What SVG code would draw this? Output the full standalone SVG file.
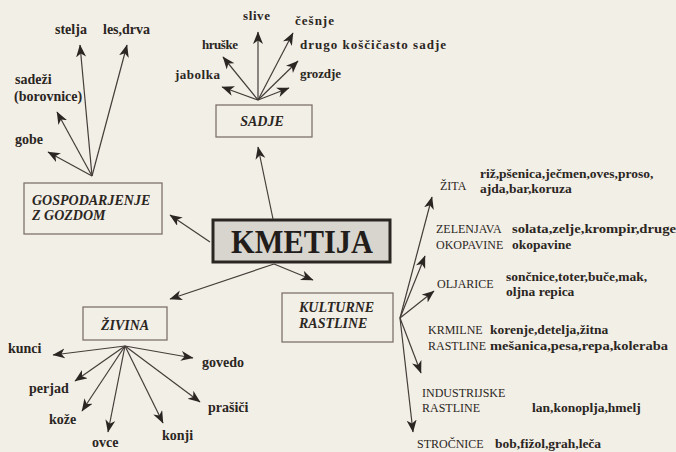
<svg xmlns="http://www.w3.org/2000/svg" width="676" height="452" viewBox="0 0 676 452">
<defs>
<marker id="ah" markerUnits="userSpaceOnUse" markerWidth="14" markerHeight="11" refX="12" refY="5" orient="auto">
<path d="M0,0 L12.5,5 L0,10 L3.5,5 z" fill="#2b2622"/>
</marker>
<style>
.bg{fill:#f2efe7}
.box{fill:#f2efe7;stroke:#7d716a;stroke-width:1.3}
.main{fill:#d8d5ce;stroke:#2b2622;stroke-width:3}
.bt{font-family:"Liberation Serif",serif;font-weight:bold;font-style:italic;font-size:14px;fill:#2b2622}
.kt{font-family:"Liberation Serif",serif;font-weight:bold;font-size:34px;fill:#221d1a}
.lb{font-family:"Liberation Serif",serif;font-weight:bold;font-size:14px;fill:#2b2622}
.sj{font-family:"Liberation Serif",serif;font-weight:bold;font-size:13px;fill:#2b2622}
.cap{font-family:"Liberation Serif",serif;font-size:12px;fill:#2b2622}
.sm{font-family:"Liberation Serif",serif;font-weight:bold;font-size:13.5px;fill:#2b2622}
.c line{stroke:#443d38;stroke-width:1.2;fill:none;marker-end:url(#ah)}
</style>
</defs>
<rect class="bg" x="0" y="0" width="676" height="452"/>

<g id="kmetija">
<rect class="main" x="213" y="220" width="177" height="42"/>
<text class="kt" x="302" y="253" text-anchor="middle" textLength="142" lengthAdjust="spacingAndGlyphs">KMETIJA</text>
</g>

<g id="sadje">
<rect class="box" x="216" y="105" width="96" height="32"/>
<text class="bt" x="262" y="126" text-anchor="middle">SADJE</text>
</g>

<g id="gospodarjenje">
<rect class="box" x="24" y="183" width="138" height="51"/>
<text class="bt" x="32" y="205">GOSPODARJENJE</text>
<text class="bt" x="32" y="220">Z GOZDOM</text>
</g>

<g id="zivina">
<rect class="box" x="83" y="307" width="84" height="33"/>
<text class="bt" x="125" y="330" text-anchor="middle">ŽIVINA</text>
</g>

<g id="kulturne">
<rect class="box" x="282" y="293" width="111" height="49"/>
<text class="bt" x="299" y="312">KULTURNE</text>
<text class="bt" x="299" y="328">RASTLINE</text>
</g>

<g id="sadje-items">
<text class="sj" x="243" y="20" textLength="27">slive</text>
<text class="sj" x="295" y="25" textLength="39">češnje</text>
<text class="sj" x="202" y="49" textLength="36">hruške</text>
<text class="sj" x="300" y="49" textLength="146">drugo koščičasto sadje</text>
<text class="sj" x="175" y="79" textLength="45">jabolka</text>
<text class="sj" x="300" y="78" textLength="41">grozdje</text>
</g>

<g id="gozd-items">
<text class="lb" x="55" y="34">stelja</text>
<text class="lb" x="103" y="34">les,drva</text>
<text class="lb" x="15" y="84">sadeži</text>
<text class="lb" x="14" y="101">(borovnice)</text>
<text class="lb" x="15" y="144">gobe</text>
</g>

<g id="zivina-items">
<text class="lb" x="8" y="353">kunci</text>
<text class="lb" x="202" y="367">govedo</text>
<text class="lb" x="29" y="393">perjad</text>
<text class="lb" x="49" y="424">kože</text>
<text class="lb" x="92" y="447">ovce</text>
<text class="lb" x="162" y="440">konji</text>
<text class="lb" x="208" y="412">prašiči</text>
</g>

<g id="rastline-items">
<text class="cap" x="440" y="190">ŽITA</text>
<text class="sm" x="480" y="178">riž,pšenica,ječmen,oves,proso,</text>
<text class="sm" x="480" y="193">ajda,bar,koruza</text>
<text class="cap" x="436" y="233">ZELENJAVA</text>
<text class="sm" x="512" y="233" textLength="164" lengthAdjust="spacingAndGlyphs">solata,zelje,krompir,druge</text>
<text class="cap" x="436" y="249">OKOPAVINE</text>
<text class="sm" x="512" y="249">okopavine</text>
<text class="cap" x="437" y="288">OLJARICE</text>
<text class="sm" x="506" y="281">sončnice,toter,buče,mak,</text>
<text class="sm" x="506" y="296">oljna repica</text>
<text class="cap" x="428" y="334">KRMILNE</text>
<text class="sm" x="490" y="334">korenje,detelja,žitna</text>
<text class="cap" x="428" y="350">RASTLINE</text>
<text class="sm" x="490" y="350" textLength="178" lengthAdjust="spacingAndGlyphs">mešanica,pesa,repa,koleraba</text>
<text class="cap" x="422" y="397">INDUSTRIJSKE</text>
<text class="cap" x="422" y="412">RASTLINE</text>
<text class="sm" x="532" y="412">lan,konoplja,hmelj</text>
<text class="cap" x="417" y="448">STROČNICE</text>
<text class="sm" x="495" y="448">bob,fižol,grah,leča</text>
</g>

<g id="connectors" class="c">
<line x1="273" y1="219" x2="258" y2="147"/>
<line x1="210" y1="242" x2="170" y2="215"/>
<line x1="274" y1="264" x2="170" y2="299"/>
<line x1="274" y1="264" x2="313" y2="280"/>

<line x1="258" y1="100" x2="222" y2="87"/>
<line x1="258" y1="100" x2="223" y2="57"/>
<line x1="258" y1="100" x2="258" y2="32"/>
<line x1="258" y1="100" x2="293" y2="33"/>
<line x1="258" y1="100" x2="298" y2="61"/>
<line x1="258" y1="100" x2="289" y2="88"/>

<line x1="92" y1="176" x2="48" y2="152"/>
<line x1="92" y1="176" x2="57" y2="112"/>
<line x1="92" y1="176" x2="80" y2="45"/>
<line x1="92" y1="176" x2="127" y2="45"/>

<line x1="125" y1="346" x2="53" y2="355"/>
<line x1="125" y1="346" x2="193" y2="358"/>
<line x1="125" y1="346" x2="75" y2="381"/>
<line x1="125" y1="346" x2="82" y2="411"/>
<line x1="125" y1="346" x2="108" y2="432"/>
<line x1="125" y1="346" x2="163" y2="423"/>
<line x1="125" y1="346" x2="200" y2="402"/>

<line x1="400" y1="318" x2="432" y2="197"/>
<line x1="400" y1="318" x2="425" y2="256"/>
<line x1="400" y1="318" x2="434" y2="291"/>
<line x1="400" y1="318" x2="421" y2="373"/>
<line x1="400" y1="318" x2="413" y2="432"/>
</g>
</svg>
